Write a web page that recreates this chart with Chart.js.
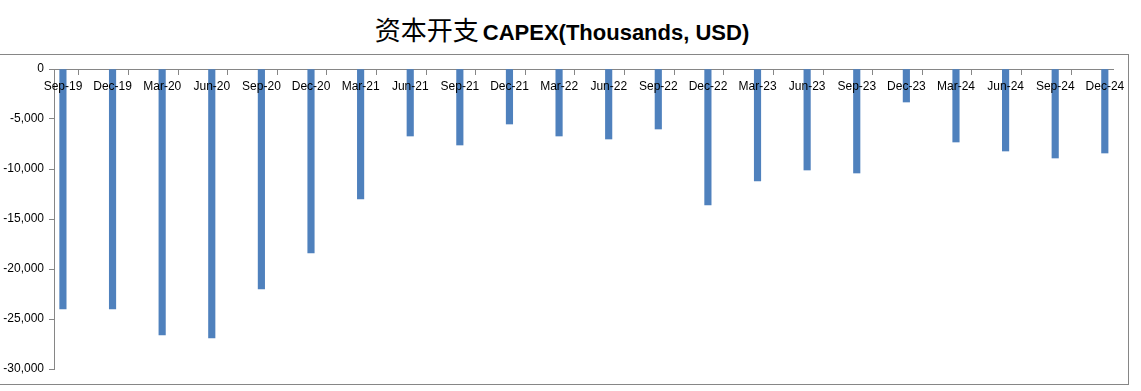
<!DOCTYPE html>
<html lang="zh-CN">
<head>
    <meta charset="UTF-8">
    <title>资本开支 CAPEX</title>
    <script src="https://cdn.jsdelivr.net/npm/chart.js@4.4.1/dist/chart.umd.min.js"></script>
    <style>
        body {
            margin: 0;
            background: #fff;
            width: 1141px;
            height: 391px;
            overflow: hidden;
            position: relative;
        }
        .frame {
            position: absolute;
            left: -5px;
            top: 54px;
            width: 1134px;
            height: 331px;
            box-sizing: border-box;
            border: 1px solid #868686;
        }
        .title {
            position: absolute;
            left: 0;
            top: 13px;
            width: 1124px;
            text-align: center;
            line-height: 32px;
            color: #000;
            white-space: nowrap;
        }
        .title .cn {
            font-family: 'Noto Sans CJK SC', sans-serif;
            font-size: 26px;
            font-weight: 400;
        }
        .title .en {
            font-family: 'Liberation Sans', Arial, sans-serif;
            font-size: 22px;
            font-weight: bold;
        }
        canvas {
            position: absolute;
            left: 0;
            top: 0;
        }
    </style>
</head>
<body>
    <div class="frame"></div>
    <div class="title"><span class="cn">资本开支</span> <span class="en">CAPEX(Thousands, USD)</span></div>
    <canvas id="chart" width="1141" height="391"></canvas>

    <script>
        // 季度标签
        const quarters = ['Sep-19', 'Dec-19', 'Mar-20', 'Jun-20', 'Sep-20', 'Dec-20', 'Mar-21', 'Jun-21',
            'Sep-21', 'Dec-21', 'Mar-22', 'Jun-22', 'Sep-22', 'Dec-22', 'Mar-23', 'Jun-23',
            'Sep-23', 'Dec-23', 'Mar-24', 'Jun-24', 'Sep-24', 'Dec-24'];

        // 资本开支 (千美元)
        const capex = [-24000, -24000, -26600, -26900, -22000, -18400, -13000, -6700,
            -7600, -5500, -6700, -7000, -6000, -13600, -11200, -10100,
            -10400, -3300, -7300, -8200, -8900, -8400];

        // y 轴刻度
        const yTicks = [0, -5000, -10000, -15000, -20000, -25000, -30000];

        const axisGray = '#868686';
        const tickShift = 0.18; // 刻度线在柱子左边一点

        const ctx = document.getElementById('chart').getContext('2d');
        new Chart(ctx, {
            type: 'bar',
            data: {
                datasets: [{
                    label: 'CAPEX',
                    data: capex.map((v, i) => ({ x: i, y: v })),
                    backgroundColor: '#4F81BD',
                    borderWidth: 0,
                    barThickness: 6.5
                }]
            },
            options: {
                responsive: false,
                devicePixelRatio: 1,
                animation: false,
                layout: {
                    padding: { top: 69, right: 28, bottom: 22, left: 0 }
                },
                plugins: {
                    legend: { display: false },
                    title: { display: false },
                    tooltip: { enabled: false }
                },
                scales: {
                    x: {
                        type: 'linear',
                        position: { y: 0 },
                        min: -tickShift,
                        max: quarters.length - 1 + 0.165,
                        offset: false,
                        afterFit: (scale) => { scale.height = 0; },
                        afterBuildTicks: (scale) => {
                            scale.ticks = quarters.map((q, i) => ({ value: i - tickShift }));
                        },
                        grid: {
                            drawOnChartArea: false,
                            drawTicks: true,
                            tickLength: 5,
                            color: axisGray
                        },
                        border: { color: axisGray, width: 1 },
                        ticks: {
                            z: 1, // 标签画在柱子上面
                            autoSkip: false,
                            maxRotation: 0,
                            padding: 5,
                            labelOffset: 9,
                            color: '#000',
                            font: { family: "'Liberation Sans', Arial, sans-serif", size: 12 },
                            callback: (value, index) => quarters[index]
                        }
                    },
                    y: {
                        min: -30000,
                        max: 0,
                        afterFit: (scale) => { scale.width = 54; },
                        afterBuildTicks: (scale) => {
                            scale.ticks = yTicks.map(v => ({ value: v }));
                        },
                        grid: {
                            drawOnChartArea: false,
                            drawTicks: true,
                            tickLength: 5,
                            color: axisGray
                        },
                        border: { color: axisGray, width: 1 },
                        ticks: {
                            padding: 5,
                            color: '#000',
                            font: { family: "'Liberation Sans', Arial, sans-serif", size: 12 },
                            callback: (value) => value.toLocaleString('en-US')
                        }
                    }
                }
            }
        });
    </script>
</body>
</html>
